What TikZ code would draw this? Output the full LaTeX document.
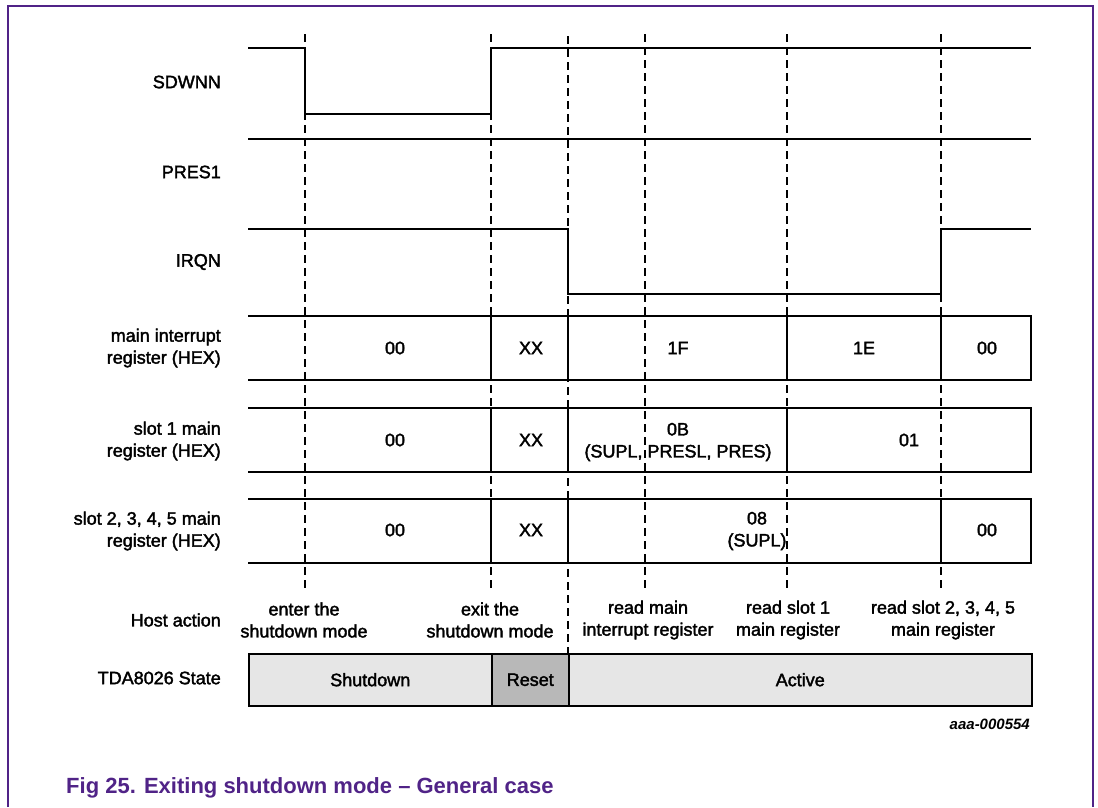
\documentclass[tikz,border=0pt]{standalone}
\usepackage{fontspec}
\setmainfont{Liberation Sans}
\newfontfamily\heavyfont[FakeBold=2]{Liberation Sans}
\definecolor{nxppurple}{RGB}{80,35,135}
\definecolor{stlight}{RGB}{230,230,230}
\definecolor{stdark}{RGB}{184,184,184}
\begin{document}
\begin{tikzpicture}[x=1pt,y=-1pt,
  sig/.style={line width=2.4pt, line join=miter, line cap=butt},
  guide/.style={line width=1.3pt, dash pattern=on 8pt off 5pt},
  reg/.style={line width=2.4pt},
  txt/.style={font=\heavyfont\fontsize{18}{22}\selectfont, inner sep=0pt},
  lbl/.style={txt, align=right, anchor=east},
  val/.style={txt, align=center},
  act/.style={txt, align=center},
  stbox/.style={draw, line width=1.5pt, minimum height=52pt, inner sep=0pt, anchor=north west, font=\heavyfont\fontsize{18}{22}\selectfont},
  frame/.style={draw=nxppurple, line width=2pt}
]
\useasboundingbox (0,0) rectangle (1098,807);
% frame
\draw[frame] (8,807) -- (8,6) -- (1093,6) -- (1093,807);

% time markers
\foreach \n/\x/\ys/\ye in {t1/305/34/588, t2/491/34/588, t3/568/36/653, t4/645/34/588, t5/787/34/588, t6/941/34/588}{
  \coordinate (\n top) at (\x,\ys);
  \coordinate (\n bot) at (\x,\ye);
  \draw[guide] (\n top) -- (\n bot);
}

% signal labels
\node[lbl] (lsd) at (221,82) {SDWNN};
\node[lbl] (lpr) at (221,172) {PRES1};
\node[lbl] (lirq) at (221,262) {IRQN};
\node[lbl] (lmi) at (221,348) {main interrupt\\register (HEX)};
\node[lbl] (ls1) at (221,441) {slot 1 main\\register (HEX)};
\node[lbl] (ls2) at (221,531) {slot 2, 3, 4, 5 main\\register (HEX)};
\node[lbl] (lha) at (221,620) {Host action};
\node[lbl] (lst) at (221,678) {TDA8026 State};

% waveforms
\draw[sig] (248,48) -- (305,48) -- (305,114) -- (491,114) -- (491,48) -- (1031,48);
\draw[sig] (248,139) -- (1031,139);
\draw[sig] (248,229) -- (568,229) -- (568,294) -- (941,294) -- (941,229) -- (1031,229);

% register rows
\draw[reg] (248,316) -- (1031,316) -- (1031,380) -- (248,380);
\foreach \x in {491,568,787,941} \draw[reg] (\x,316) -- (\x,380);
\draw[reg] (248,408) -- (1031,408) -- (1031,472) -- (248,472);
\foreach \x in {491,568,787} \draw[reg] (\x,408) -- (\x,472);
\draw[reg] (248,499) -- (1031,499) -- (1031,563) -- (248,563);
\foreach \x in {491,568,941} \draw[reg] (\x,499) -- (\x,563);

% register values
\node[val] (r1a) at (395,348) {00};
\node[val] (r1b) at (531,348) {XX};
\node[val] (r1c) at (678,348) {1F};
\node[val] (r1d) at (864,348) {1E};
\node[val] (r1e) at (987,348) {00};
\node[val] (r2a) at (395,440) {00};
\node[val] (r2b) at (531,440) {XX};
\node[val] (r2c) at (678,442) {0B\\(SUPL, PRESL, PRES)};
\node[val] (r2d) at (909,440) {01};
\node[val] (r3a) at (395,530) {00};
\node[val] (r3b) at (531,530) {XX};
\node[val] (r3c) at (757,531) {08\\(SUPL)};
\node[val] (r3d) at (987,530) {00};

% host actions
\node[act] (h1) at (304,620) {enter the\\shutdown mode};
\node[act] (h2) at (490,620) {exit the\\shutdown mode};
\node[act] (h3) at (648,620) {read main\\interrupt register};
\node[act] (h4) at (788,620) {read slot 1\\main register};
\node[act] (h5) at (943,620) {read slot 2, 3, 4, 5\\main register};

% state bar
\node[stbox, fill=stlight, minimum width=243pt] (sShut) at (248,653) {Shutdown};
\node[stbox, fill=stdark, minimum width=77pt] (sReset) at (491,653) {Reset};
\node[stbox, fill=stlight, minimum width=463pt] (sAct) at (568,653) {Active};

% id
\node[anchor=east, inner sep=0pt, font=\fontsize{15}{17}\selectfont\bfseries\itshape] (id) at (1030,724) {aaa-000554};

% caption
\node[anchor=west, inner sep=0pt, text=nxppurple, font=\fontsize{22}{26}\selectfont\bfseries] (cap) at (66,788) {Fig 25. Exiting shutdown mode -- General case};
\end{tikzpicture}
\end{document}
